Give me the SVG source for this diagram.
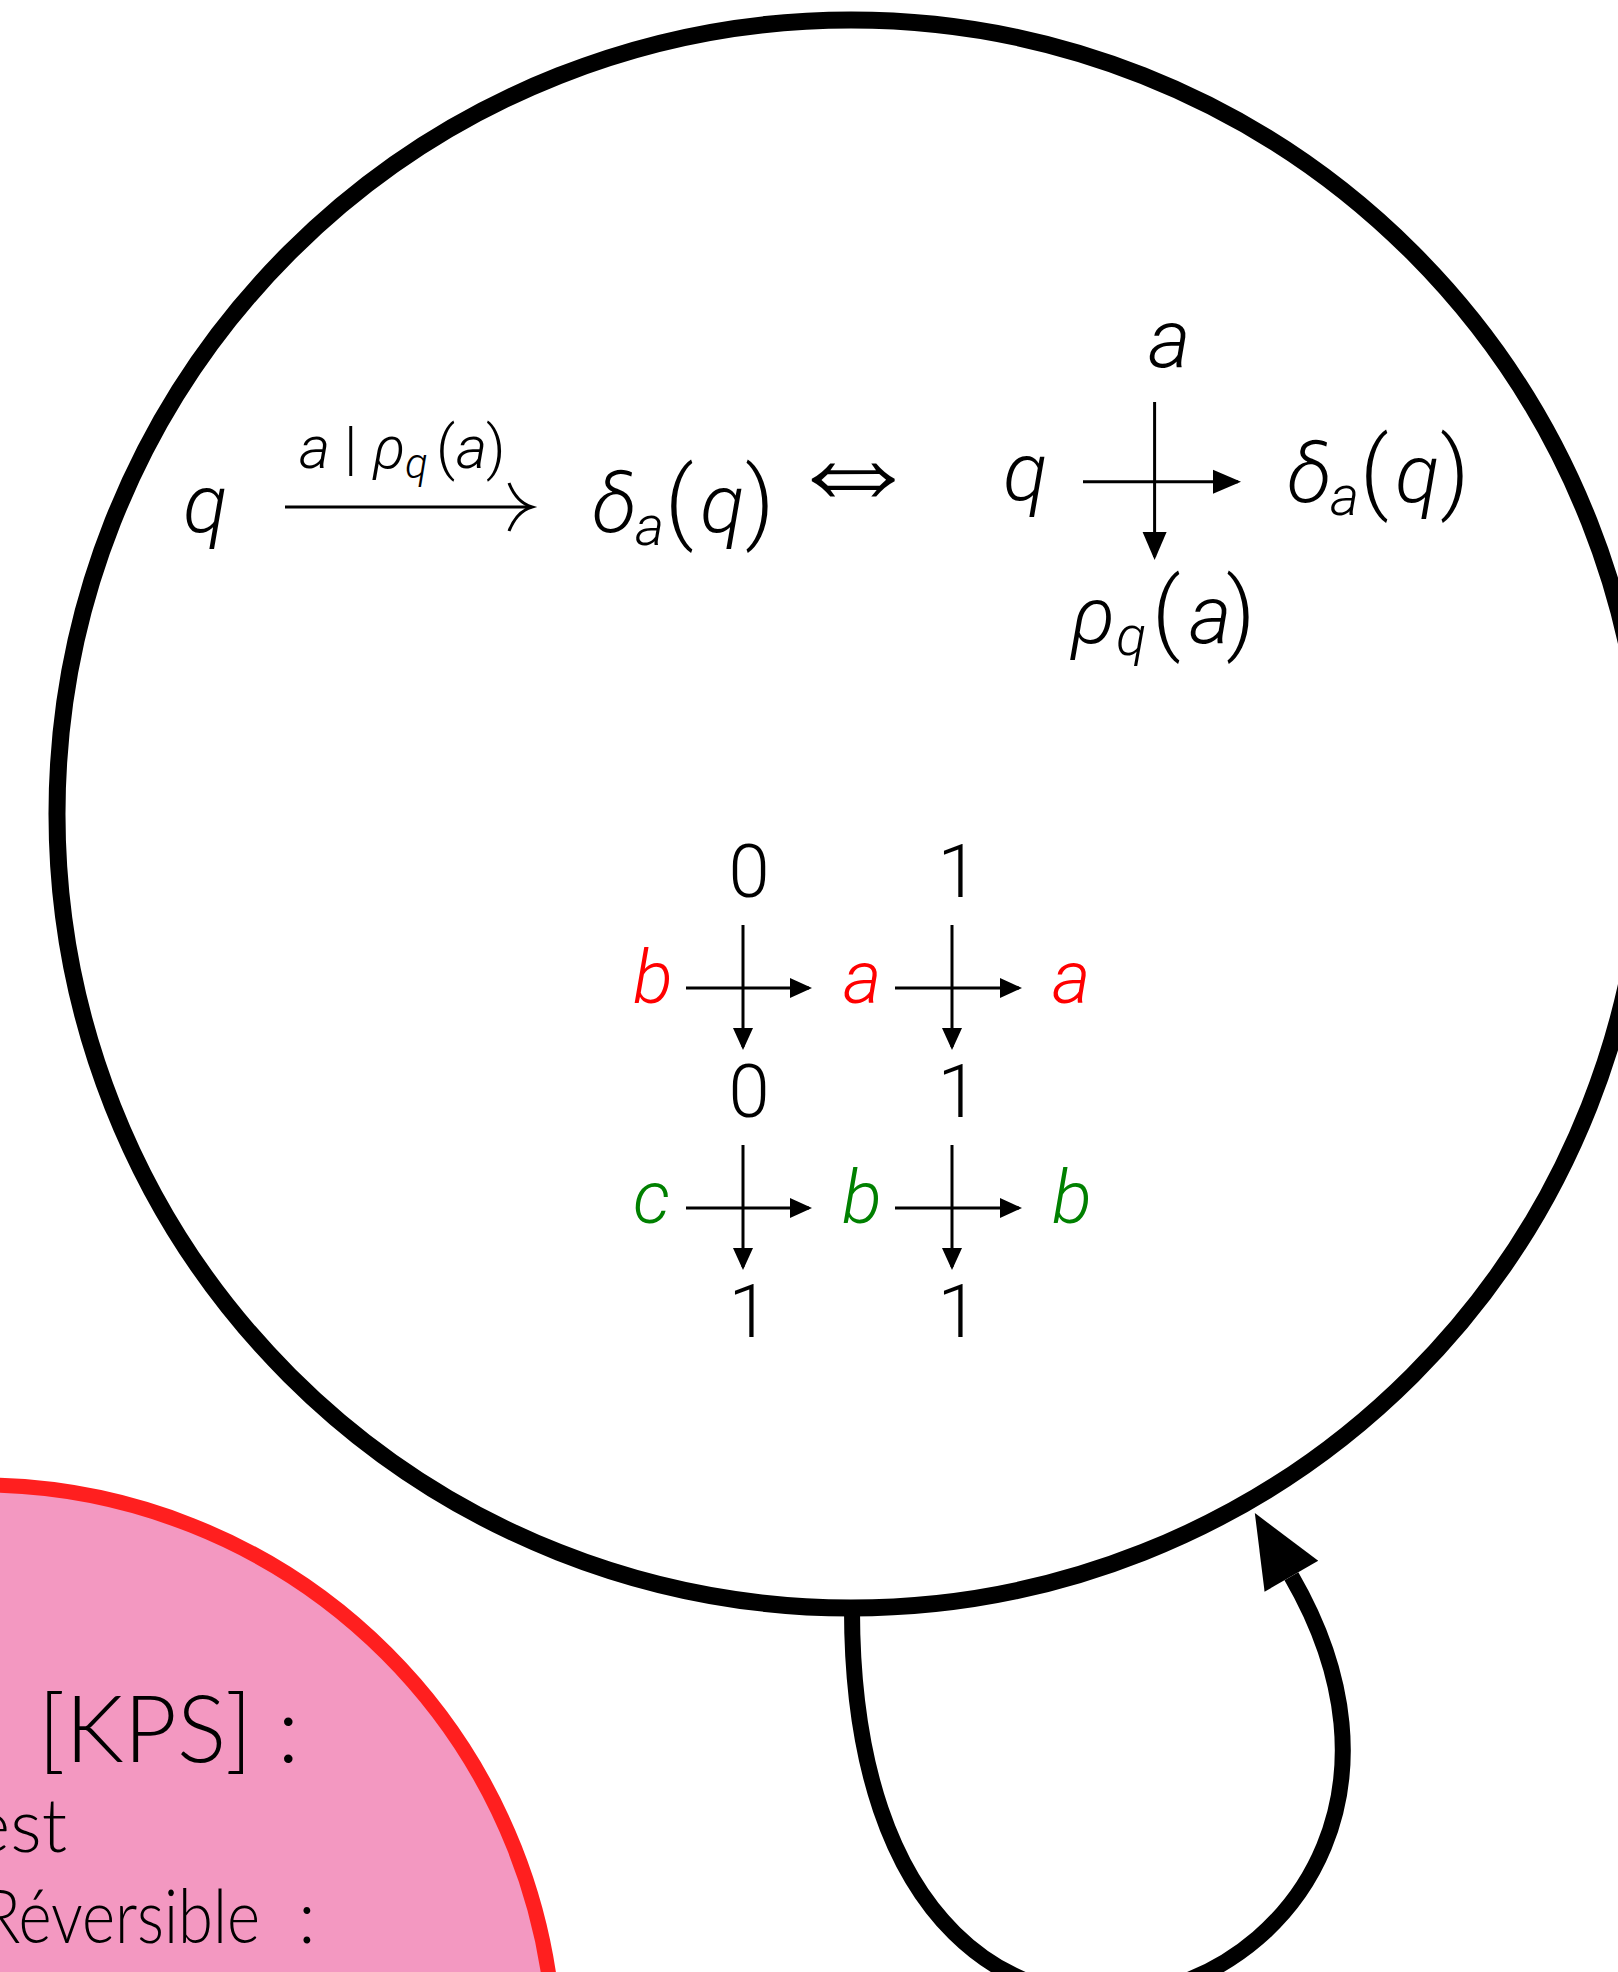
<svg xmlns="http://www.w3.org/2000/svg" width="1618" height="1972" viewBox="0 0 1618 1972">
<defs>
<style>
.m{font-family:"Roboto","Lato","DejaVu Sans",sans-serif;font-weight:300;fill:#000}
.i{font-style:italic}
.big{font-size:82px}
.par{font-size:90px}
.sub{font-size:56px}
.lab{font-size:60px}
.lsub{font-size:42px}
.grid{font-size:74px}
.red{fill:#ff0000}
.green{fill:#008000}
.arr{stroke:#000;stroke-width:3;fill:none}
.txt{font-family:"Lato","Open Sans","DejaVu Sans",sans-serif;font-weight:300;fill:#000}
</style>
<marker id="ah" markerUnits="userSpaceOnUse" markerWidth="23" markerHeight="21" refX="19" refY="10" orient="auto" overflow="visible">
<path d="M0 0 L22 10 L0 20 Z" fill="#000"/>
</marker>
<marker id="ahb" markerUnits="userSpaceOnUse" markerWidth="29" markerHeight="25" refX="25" refY="12" orient="auto" overflow="visible">
<path d="M0 0 L28 12 L0 24 Z" fill="#000"/>
</marker>
<marker id="loophead" markerUnits="userSpaceOnUse" markerWidth="74" markerHeight="63" refX="0" refY="31" orient="auto" overflow="visible">
<path d="M0 0 L73 31 L0 62 Z" fill="#000"/>
</marker>
</defs>
<rect x="0" y="0" width="1618" height="1972" fill="#fff"/>

<g id="node-automaton">
<circle cx="851" cy="814" r="794" fill="#fff" stroke="#000" stroke-width="17"/>
<g id="formula-arrow">
<text class="m big i" x="183" y="532">q</text>
<path class="arr" d="M285 507 H531"/>
<path class="arr" d="M509 483 C514 496 522 504 532 507 C522 510 514 518 509 531"/>
<text class="m lab" y="468"><tspan class="i" x="299">a</tspan><tspan x="344">|</tspan><tspan class="i" x="373">ρ</tspan><tspan class="i lsub" x="405" y="478">q</tspan><tspan x="436" y="468">(</tspan><tspan class="i" x="456">a</tspan><tspan x="486">)</tspan></text>
<text class="m big" y="532"><tspan class="i" x="592">δ</tspan><tspan class="i sub" x="635" y="545">a</tspan><tspan class="par" x="665" y="532">(</tspan><tspan class="i" x="700">q</tspan><tspan class="par" x="745">)</tspan></text>
<text x="853" y="513" text-anchor="middle" style="font-family:'DejaVu Sans',sans-serif;font-weight:200;font-size:140px">⇔</text>
</g>
<g id="formula-cross">
<text class="m big i" x="1003" y="500">q</text>
<text class="m big i" x="1148" y="367">a</text>
<path class="arr" d="M1083 481.7 H1238" marker-end="url(#ahb)"/>
<path class="arr" d="M1154.6 402 V557" marker-end="url(#ahb)"/>
<text class="m big" y="502"><tspan class="i" x="1287">δ</tspan><tspan class="i sub" x="1330" y="515">a</tspan><tspan class="par" x="1360" y="502">(</tspan><tspan class="i" x="1395">q</tspan><tspan class="par" x="1440">)</tspan></text>
<text class="m big" y="643"><tspan class="i" x="1071">ρ</tspan><tspan class="i sub" x="1116" y="655">q</tspan><tspan class="par" x="1152" y="643">(</tspan><tspan class="i" x="1189">a</tspan><tspan class="par" x="1226">)</tspan></text>
</g>
<g id="grid">
<text class="m grid" x="749" y="897" text-anchor="middle">0</text>
<text class="m grid" x="958" y="897" text-anchor="middle">1</text>
<text class="m grid i red" x="633" y="1003">b</text>
<text class="m grid i red" x="843" y="1003">a</text>
<text class="m grid i red" x="1052" y="1003">a</text>
<text class="m grid" x="749" y="1117" text-anchor="middle">0</text>
<text class="m grid" x="958" y="1117" text-anchor="middle">1</text>
<text class="m grid i green" x="633" y="1223">c</text>
<text class="m grid i green" x="842" y="1223">b</text>
<text class="m grid i green" x="1052" y="1223">b</text>
<text class="m grid" x="749" y="1337" text-anchor="middle">1</text>
<text class="m grid" x="958" y="1337" text-anchor="middle">1</text>
<path class="arr" d="M686 988 H809" marker-end="url(#ah)"/>
<path class="arr" d="M895 988 H1019" marker-end="url(#ah)"/>
<path class="arr" d="M743 925 V1047" marker-end="url(#ah)"/>
<path class="arr" d="M952 925 V1047" marker-end="url(#ah)"/>
<path class="arr" d="M686 1208 H809" marker-end="url(#ah)"/>
<path class="arr" d="M895 1208 H1019" marker-end="url(#ah)"/>
<path class="arr" d="M743 1145 V1267" marker-end="url(#ah)"/>
<path class="arr" d="M952 1145 V1267" marker-end="url(#ah)"/>
</g>
</g>

<g id="node-kps">
<circle cx="-20" cy="2060" r="575" fill="#f398c1" stroke="#ff1f1f" stroke-width="15"/>
<text class="txt" x="38" y="1762" style="font-size:92px">[KPS] :</text>
<text class="txt" x="67" y="1852" text-anchor="end" style="font-size:74px">est</text>
<text class="txt" x="-18" y="1943" style="font-size:74px" textLength="278" lengthAdjust="spacingAndGlyphs">Réversible</text>
<text class="txt" x="298" y="1943" style="font-size:74px">:</text>
</g>

<g id="connectors">
<path d="M852 1610 C852 2250 1531.5 1991.2 1291.4 1576.2" fill="none" stroke="#000" stroke-width="16" marker-end="url(#loophead)"/>
</g>
</svg>
